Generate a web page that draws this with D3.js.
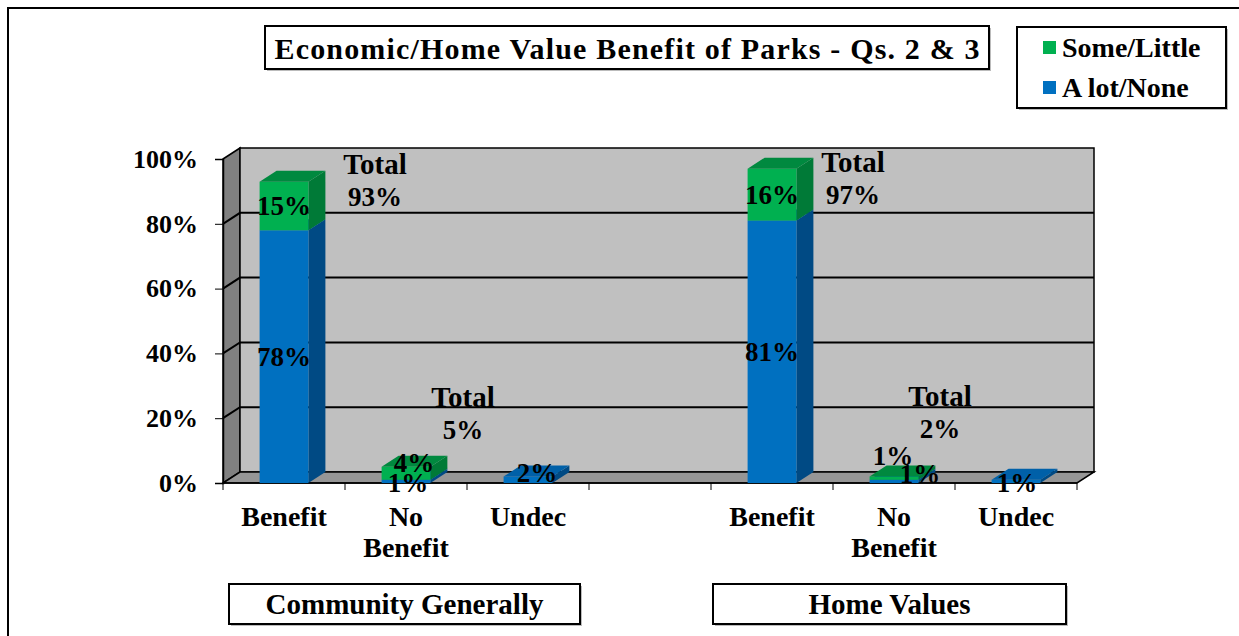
<!DOCTYPE html>
<html>
<head>
<meta charset="utf-8">
<script src="https://cdn.jsdelivr.net/npm/d3@7"></script>
<style>
  body { margin: 0; background: #fff; }
  svg { display: block; font-family: "Liberation Serif", "DejaVu Serif", serif; font-weight: bold; }
</style>
</head>
<body>
<svg id="chart" width="1239" height="636"></svg>
<script>
// THE DATA
const categories = ["Benefit", "No Benefit", "Undec", "", "Benefit", "No Benefit", "Undec"];
const alotNone   = [78, 1, 2, 0, 81, 1, 1];
const someLittle = [15, 4, 0, 0, 16, 1, 0];
const totals     = [93, 5, null, null, 97, 2, null];
const groups     = ["Community Generally", "Home Values"];
const yTicks     = [0, 20, 40, 60, 80, 100];
const seriesNames = ["Some/Little", "A lot/None"];

// SETUP
const svg = d3.select("#chart");
const front = {left: 223, right: 1077, top: 159, bottom: 483};
const depth = {dx: 17, dy: -11};

const x = d3.scaleBand()
  .domain(d3.range(categories.length))
  .range([front.left, front.right]);

const y = d3.scaleLinear()
  .domain([0, 100])
  .range([front.bottom, front.top]);

const barW = x.bandwidth() * 0.4;

const colors = {
  blue:  {front: "#0070C0", side: "#004A84", top: "#0060A8"},
  green: {front: "#00B050", side: "#007A37", top: "#00893F"}
};

const pts = arr => arr.map(p => p.join(",")).join(" ");

// outer frame
svg.append("path")
  .attr("d", "M8,636 L8,8 L1239,8")
  .attr("fill", "none")
  .attr("stroke", "#000")
  .attr("stroke-width", 2);

// WALLS
const y0 = y(0), y100 = y(100);
// left wall
svg.append("polygon")
  .attr("points", pts([[front.left, y100], [front.left + depth.dx, y100 + depth.dy],
                       [front.left + depth.dx, y0 + depth.dy], [front.left, y0]]))
  .attr("fill", "#808080").attr("stroke", "#000").attr("stroke-width", 1.5);
// back wall
svg.append("rect")
  .attr("x", front.left + depth.dx)
  .attr("y", y100 + depth.dy)
  .attr("width", front.right - front.left)
  .attr("height", y0 - y100)
  .attr("fill", "#C0C0C0").attr("stroke", "#000").attr("stroke-width", 1.5);
// floor
svg.append("polygon")
  .attr("points", pts([[front.left, y0], [front.right, y0],
                       [front.right + depth.dx, y0 + depth.dy], [front.left + depth.dx, y0 + depth.dy]]))
  .attr("fill", "#969696").attr("stroke", "#000").attr("stroke-width", 1.5);

// gridlines
const grid = svg.append("g");
yTicks.filter(t => t > 0 && t < 100).forEach(t => {
  grid.append("path")
    .attr("d", `M${front.left},${y(t)} L${front.left + depth.dx},${y(t) + depth.dy} L${front.right + depth.dx},${y(t) + depth.dy}`)
    .attr("fill", "none").attr("stroke", "#000").attr("stroke-width", 2);
});

// y axis
const yAxis = d3.axisLeft(y).tickValues(yTicks).tickFormat(d => d + "%").tickSize(8).tickPadding(17);
const yg = svg.append("g").attr("transform", `translate(${front.left},0)`).call(yAxis);
yg.select(".domain").attr("stroke", "#000").attr("stroke-width", 1.5);
yg.selectAll(".tick line").attr("stroke", "#000");
yg.selectAll("text").attr("font-size", 26).attr("font-family", "Liberation Serif").attr("font-weight", "bold").attr("fill", "#000");

// x axis ticks (category edges)
const xg = svg.append("g");
xg.append("line")
  .attr("x1", front.left).attr("x2", front.right)
  .attr("y1", y0).attr("y2", y0)
  .attr("stroke", "#000").attr("stroke-width", 1.5);
d3.range(categories.length + 1).forEach(i => {
  const xx = i < categories.length ? x(i) : front.right;
  xg.append("line")
    .attr("x1", xx).attr("x2", xx)
    .attr("y1", y0).attr("y2", y0 + 7)
    .attr("stroke", "#000");
});

// category labels
categories.forEach((c, i) => {
  if (!c) return;
  const t = svg.append("text")
    .attr("x", x(i) + x.bandwidth() / 2)
    .attr("y", 526)
    .attr("text-anchor", "middle")
    .attr("font-size", 28);
  c.split(" ").forEach((w, k) => {
    t.append("tspan").attr("x", x(i) + x.bandwidth() / 2).attr("dy", k ? 31 : 0).text(w);
  });
});

// BARS
function drawBox(g, cx, lo, hi, col) {
  const x0 = cx - barW / 2, x1 = cx + barW / 2;
  const yl = y(lo), yh = y(hi);
  // side
  g.append("polygon")
    .attr("points", pts([[x1, yh], [x1 + depth.dx, yh + depth.dy], [x1 + depth.dx, yl + depth.dy], [x1, yl]]))
    .attr("fill", col.side);
  // front
  g.append("rect")
    .attr("x", x0).attr("y", yh)
    .attr("width", barW).attr("height", yl - yh)
    .attr("fill", col.front);
  // top
  g.append("polygon")
    .attr("points", pts([[x0, yh], [x0 + depth.dx, yh + depth.dy], [x1 + depth.dx, yh + depth.dy], [x1, yh]]))
    .attr("fill", col.top);
}

const bars = svg.append("g");
categories.forEach((c, i) => {
  const cx = x(i) + x.bandwidth() / 2;
  if (alotNone[i] > 0) drawBox(bars, cx, 0, alotNone[i], colors.blue);
  if (someLittle[i] > 0) drawBox(bars, cx, alotNone[i], alotNone[i] + someLittle[i], colors.green);
});

// value labels (nudges for the tiny segments, as in the original)
const nudgeBlue  = {1: [2, 1], 2: [9, -7], 5: [26, -8], 6: [1, 1]};
const nudgeGreen = {1: [8, -11], 5: [-1, -23]};
const labels = svg.append("g").attr("font-size", 27).attr("text-anchor", "middle");
categories.forEach((c, i) => {
  const cx = x(i) + x.bandwidth() / 2;
  if (alotNone[i] > 0) {
    const n = nudgeBlue[i] || [0, 0];
    labels.append("text")
      .attr("x", cx + n[0]).attr("y", y(alotNone[i] / 2) + n[1]).attr("dy", "0.35em")
      .text(alotNone[i] + "%");
  }
  if (someLittle[i] > 0) {
    const n = nudgeGreen[i] || [0, 0];
    labels.append("text")
      .attr("x", cx + n[0]).attr("y", y(alotNone[i] + someLittle[i] / 2) + n[1]).attr("dy", "0.35em")
      .text(someLittle[i] + "%");
  }
});

// totals
const totalPos = {0: [91, -18], 1: [57, -70], 4: [81, -7], 5: [46, -81]};
categories.forEach((c, i) => {
  if (totals[i] == null) return;
  const cx = x(i) + x.bandwidth() / 2;
  const p = totalPos[i];
  labels.append("text")
    .attr("x", cx + p[0]).attr("y", y(totals[i]) + p[1]).attr("dy", "0.35em")
    .attr("font-size", 29)
    .text("Total");
  labels.append("text")
    .attr("x", cx + p[0]).attr("y", y(totals[i]) + p[1] + 33).attr("dy", "0.35em")
    .text(totals[i] + "%");
});

// BOXES
function box(x0, y0b, w, h) {
  svg.append("rect").attr("x", x0 + 2).attr("y", y0b + 2).attr("width", w).attr("height", h).attr("fill", "#bbb");
  svg.append("rect").attr("x", x0).attr("y", y0b).attr("width", w).attr("height", h)
    .attr("fill", "#fff").attr("stroke", "#000").attr("stroke-width", 2);
}

// title
box(265, 26, 724, 43);
svg.append("text")
  .attr("x", 627).attr("y", 48).attr("dy", "0.35em")
  .attr("text-anchor", "middle").attr("font-size", 30)
  .attr("textLength", 705).attr("lengthAdjust", "spacing")
  .text("Economic/Home Value Benefit of Parks - Qs. 2 & 3");

// legend
box(1017, 27, 209, 81);
[colors.green.front, colors.blue.front].forEach((col, k) => {
  svg.append("rect").attr("x", 1043).attr("y", 41 + k * 40).attr("width", 13).attr("height", 13).attr("fill", col);
  svg.append("text").attr("x", 1062).attr("y", 47 + k * 40).attr("dy", "0.35em")
    .attr("font-size", 28).text(seriesNames[k]);
});

// group labels
const groupBoxes = [[229, 351], [713, 353]];
groups.forEach((g, k) => {
  const [gx, gw] = groupBoxes[k];
  box(gx, 584, gw, 40);
  svg.append("text")
    .attr("x", gx + gw / 2).attr("y", 604).attr("dy", "0.35em")
    .attr("text-anchor", "middle").attr("font-size", 29)
    .text(g);
});
</script>
</body>
</html>
